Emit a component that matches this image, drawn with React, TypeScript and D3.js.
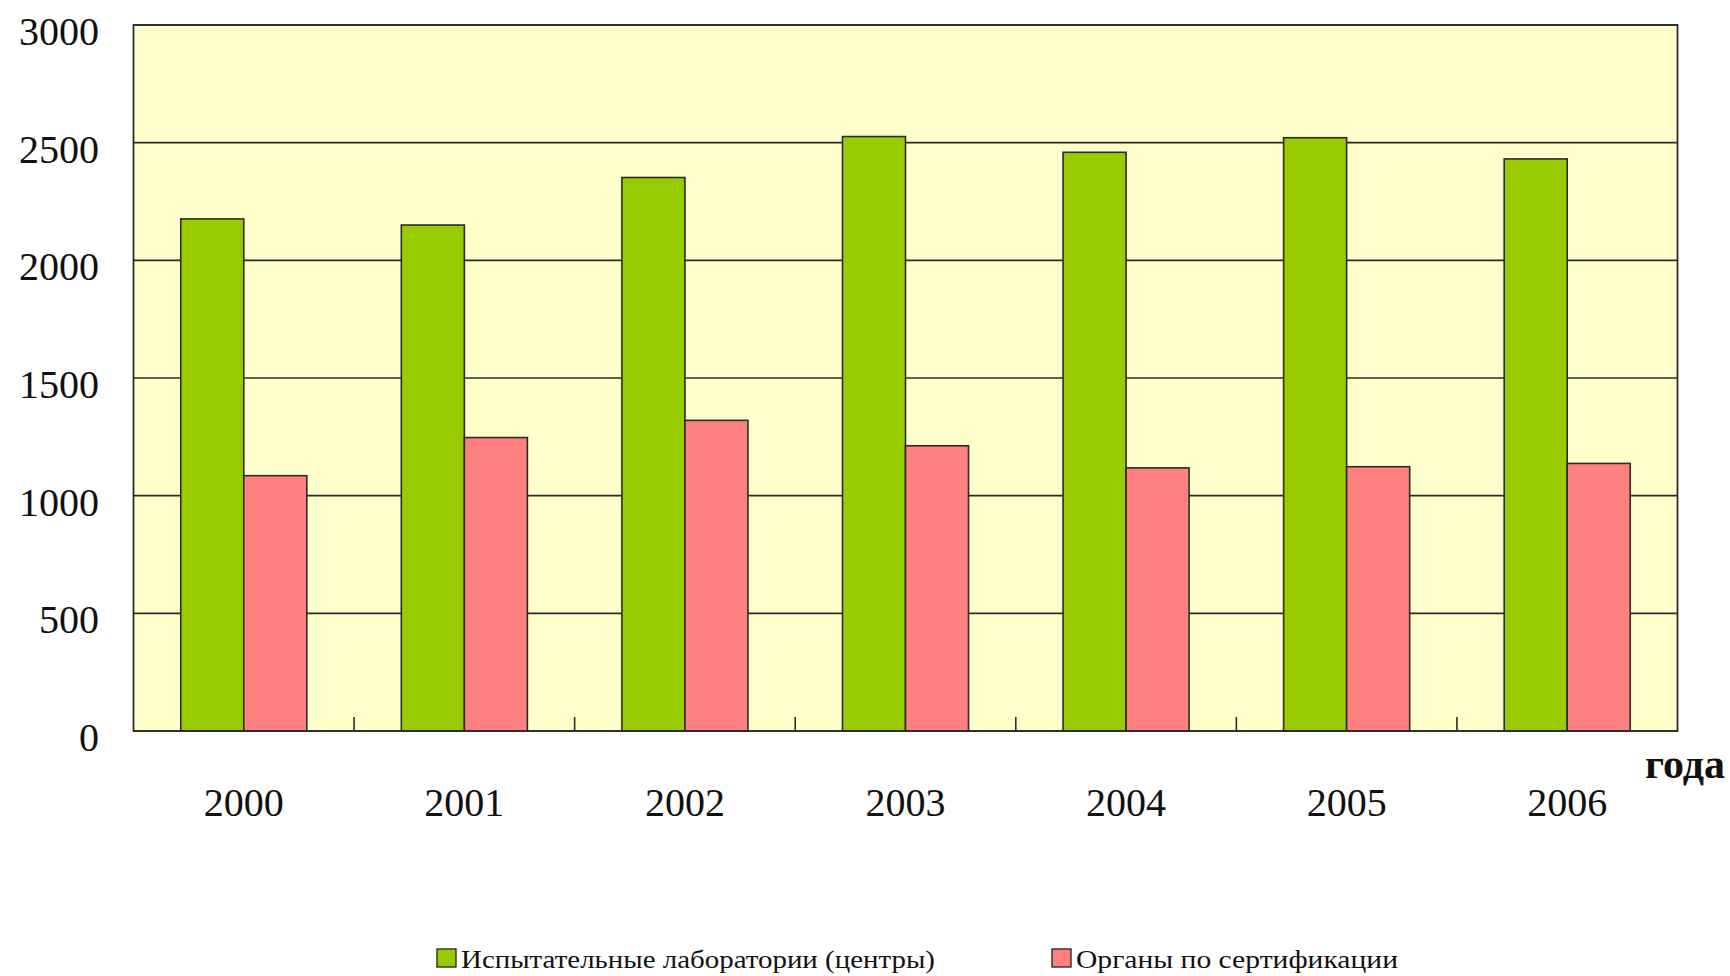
import React from "react";
import * as d3 from "d3";

const years = ["2000", "2001", "2002", "2003", "2004", "2005", "2006"];
const labs = [2176, 2150, 2352, 2526, 2459, 2521, 2431];
const certs = [1085, 1247, 1320, 1212, 1118, 1123, 1137];
const seriesNames = ["Испытательные лаборатории (центры)", "Органы по сертификации"];
const seriesColors = ["#99CC00", "#FF8080"];
const yTicks = [0, 500, 1000, 1500, 2000, 2500, 3000];

export default function App() {
  const W = 1730, H = 976;
  const left = 133.5, right = 1677.5, top = 25, bottom = 731;
  const x = d3.scaleBand<string>().domain(years).range([left, right]).padding(0);
  const sub = d3.scaleBand<number>().domain([0, 1]).range([0, x.bandwidth()]).paddingInner(0).paddingOuter(0.75);
  const y = d3.scaleLinear().domain([0, 3000]).range([bottom, top]);
  const series = [labs, certs];
  const font = "'Liberation Serif', 'Times New Roman', serif";
  const stroke = "#2b2b2b";
  return (
    <svg width={W} height={H} style={{ position: "absolute", left: 0, top: 0, background: "#fff" }}>
      <rect x={left} y={top} width={right - left} height={bottom - top} fill="#FFFFCC" />
      {yTicks.map((t) => (
        <line key={"g" + t} x1={left} x2={right} y1={y(t)} y2={y(t)} stroke={stroke} strokeWidth={1.6} />
      ))}
      {series.map((vals, si) =>
        years.map((yr, i) => (
          <rect
            key={si + "-" + yr}
            x={x(yr)! + sub(si)!}
            y={y(vals[i])}
            width={sub.bandwidth()}
            height={bottom - y(vals[i])}
            fill={seriesColors[si]}
            stroke={stroke}
            strokeWidth={1.6}
          />
        ))
      )}
      {years.slice(1).map((yr) => (
        <line key={"t" + yr} x1={x(yr)!} x2={x(yr)!} y1={bottom} y2={bottom - 14} stroke={stroke} strokeWidth={1.6} />
      ))}
      <rect x={left} y={top} width={right - left} height={bottom - top} fill="none" stroke={stroke} strokeWidth={1.8} />
      {yTicks.map((t) => (
        <text key={"yl" + t} x={99} y={y(t) + 20} textAnchor="end" fontFamily={font} fontSize={40} fill="#111">
          {t}
        </text>
      ))}
      {years.map((yr) => (
        <text key={"xl" + yr} x={x(yr)! + x.bandwidth() / 2} y={816} textAnchor="middle" fontFamily={font} fontSize={40} fill="#111">
          {yr}
        </text>
      ))}
      <text x={1725} y={778} textAnchor="end" fontFamily={font} fontSize={42} fontWeight="bold" fill="#111">
        года
      </text>
      <g>
        <rect x={437} y={949} width={19} height={18} fill={seriesColors[0]} stroke={stroke} strokeWidth={1.4} />
        <text x={461} y={968} fontFamily={font} fontSize={25} fill="#111" textLength={474} lengthAdjust="spacingAndGlyphs">
          {seriesNames[0]}
        </text>
        <rect x={1052} y={949} width={19} height={18} fill={seriesColors[1]} stroke={stroke} strokeWidth={1.4} />
        <text x={1076} y={968} fontFamily={font} fontSize={25} fill="#111" textLength={322} lengthAdjust="spacingAndGlyphs">
          {seriesNames[1]}
        </text>
      </g>
    </svg>
  );
}
